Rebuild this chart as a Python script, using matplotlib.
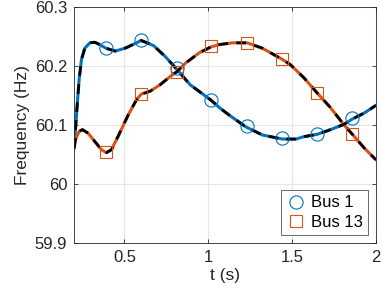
import numpy as np
import matplotlib
matplotlib.use("Agg")
import matplotlib.pyplot as plt

plt.rcParams['font.family'] = ['Liberation Sans', 'DejaVu Sans']

# Bus 1 frequency trace
t_bus1 = [0.200, 0.208, 0.218, 0.230, 0.244, 0.264, 0.294, 0.323, 0.353, 0.389,
          0.445, 0.505, 0.565, 0.600, 0.635, 0.675, 0.743, 0.813, 0.892, 1.016,
          1.072, 1.123, 1.222, 1.322, 1.442, 1.523, 1.570, 1.650, 1.730, 1.810,
          1.860, 1.930, 2.000]
f_bus1 = [60.061, 60.092, 60.132, 60.177, 60.211, 60.230, 60.239, 60.240, 60.236, 60.230,
          60.225, 60.230, 60.238, 60.243, 60.239, 60.234, 60.216, 60.194, 60.168, 60.142,
          60.128, 60.117, 60.097, 60.083, 60.076, 60.076, 60.080, 60.084, 60.092, 60.101,
          60.110, 60.120, 60.133]

# Bus 13 frequency trace
t_bus13 = [0.200, 0.208, 0.230, 0.250, 0.283, 0.323, 0.363, 0.393, 0.423, 0.463,
           0.523, 0.573, 0.600, 0.653, 0.713, 0.773, 0.813, 0.866, 0.946, 1.016,
           1.066, 1.143, 1.232, 1.322, 1.442, 1.490, 1.570, 1.650, 1.730, 1.810,
           1.860, 1.930, 2.000]
f_bus13 = [60.061, 60.075, 60.089, 60.092, 60.086, 60.072, 60.058, 60.053, 60.058, 60.081,
           60.117, 60.143, 60.152, 60.157, 60.168, 60.182, 60.190, 60.205, 60.222, 60.232,
           60.236, 60.239, 60.239, 60.230, 60.211, 60.202, 60.180, 60.154, 60.129, 60.100,
           60.084, 60.061, 60.041]

# marker samples
t_mark = [0.389, 0.600, 0.813, 1.016, 1.232, 1.442, 1.650, 1.860]
f_mark1 = [60.230, 60.244, 60.197, 60.142, 60.098, 60.077, 60.085, 60.112]
f_mark13 = [60.054, 60.153, 60.190, 60.233, 60.239, 60.211, 60.154, 60.084]

blue = '#0072BD'
orange = '#D95319'

fig = plt.figure(figsize=(3.82, 2.97), dpi=100)
ax = fig.add_axes([0.194, 0.182, 0.790, 0.795])

ax.plot(t_bus1, f_bus1, '-', color=blue, lw=2.2)
ax.plot(t_bus13, f_bus13, '-', color=orange, lw=2.2)
ax.plot(t_bus1, f_bus1, '--', color='black', lw=2.0, dashes=(3.5, 3))
ax.plot(t_bus13, f_bus13, '--', color='black', lw=2.0, dashes=(3.5, 3))
ax.plot(t_mark, f_mark1, 'o', mfc='none', mec=blue, ms=9.5, mew=0.8, label='Bus 1')
ax.plot(t_mark, f_mark13, 's', mfc='none', mec=orange, ms=8.5, mew=0.8, label='Bus 13')

ax.set_xlim(0.2, 2)
ax.set_ylim(59.9, 60.3)
ax.set_xticks([0.5, 1, 1.5, 2])
ax.set_xticklabels(['0.5', '1', '1.5', '2'])
ax.set_yticks([59.9, 60, 60.1, 60.2, 60.3])
ax.set_yticklabels(['59.9', '60', '60.1', '60.2', '60.3'])
ax.grid(True, color='#e6e6e6', lw=0.8)
ax.set_axisbelow(True)
ax.tick_params(direction='in', length=3, width=0.6, colors='#262626',
               labelsize=12, top=True, right=True, pad=5)
for sp in ax.spines.values():
    sp.set_color('#262626')
    sp.set_linewidth(0.6)

ax.set_xlabel('t (s)', fontsize=12.5, color='#262626', labelpad=2)
ax.set_ylabel('Frequency (Hz)', fontsize=12.5, color='#262626', labelpad=3)

leg = ax.legend(loc='lower right', fontsize=12, frameon=True, fancybox=False,
                edgecolor='#262626', handletextpad=0.3, borderpad=0.3,
                labelspacing=0.25, handlelength=1.2, borderaxespad=0.5)
leg.get_frame().set_linewidth(0.6)

fig.savefig('out.png', dpi=100)
